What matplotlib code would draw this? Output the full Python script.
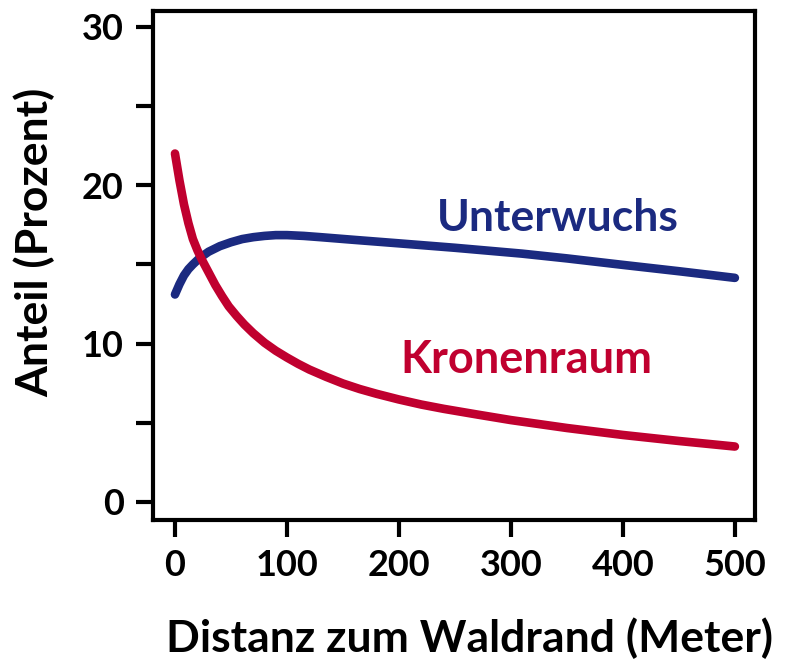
import matplotlib
matplotlib.use("Agg")
import matplotlib.pyplot as plt

plt.rcParams["font.family"] = ["Lato", "DejaVu Sans"]
plt.rcParams["font.weight"] = "bold"

# distance from forest edge (m) and share (%)
krone_x = [0, 4, 8, 12, 16, 20, 24, 30, 36, 42, 48, 55, 62, 70, 80, 90, 100, 110, 120, 135, 150,
           165, 180, 200, 220, 240, 270, 300, 350, 400, 450, 500]
krone_y = [22.0, 20.3, 18.8, 17.6, 16.6, 15.9, 15.3, 14.5, 13.7, 13.0, 12.35, 11.75, 11.2, 10.65, 10.05,
           9.55, 9.12, 8.72, 8.36, 7.9, 7.48, 7.13, 6.83, 6.47, 6.15, 5.88, 5.52, 5.17, 4.67, 4.23, 3.85, 3.5]

unter_x = [0, 4, 8, 12, 16, 22, 30, 40, 50, 60, 70, 80, 90, 100, 115, 130, 160, 200, 250, 310,
           350, 400, 450, 500]
unter_y = [13.1, 13.75, 14.3, 14.7, 15.0, 15.4, 15.8, 16.15, 16.4, 16.6, 16.72, 16.8, 16.85, 16.85,
           16.8, 16.72, 16.55, 16.33, 16.05, 15.68, 15.38, 14.97, 14.57, 14.15]

y_ticks = [0, 5, 10, 15, 20, 25, 30]
y_labels = ["0", "", "10", "", "20", "", "30"]
x_ticks = [0, 100, 200, 300, 400, 500]

blue = "#1b2a80"
red = "#c0002f"

fig = plt.figure(figsize=(7.86, 6.6), dpi=100)
ax = fig.add_axes([0.1947, 0.2121, 0.7659, 0.7712])

ax.plot(unter_x, unter_y, color=blue, lw=6.2, solid_capstyle="round", solid_joinstyle="round")
ax.plot(krone_x, krone_y, color=red, lw=6.2, solid_capstyle="round", solid_joinstyle="round")

ax.text(234, 17.1, "Unterwuchs", color=blue, fontsize=32, fontweight="bold", ha="left", va="baseline")
ax.text(201, 8.15, "Kronenraum", color=red, fontsize=32.5, fontweight="bold", ha="left", va="baseline")

ax.set_xlim(-19.6, 518)
ax.set_ylim(-1.14, 31.0)
ax.set_xticks(x_ticks)
ax.set_yticks(y_ticks)
ax.set_yticklabels(y_labels)

for s in ax.spines.values():
    s.set_linewidth(3)
ax.tick_params(length=12, width=3, labelsize=26, pad=9)

fig.text(470 / 786, 1 - 638 / 660, "Distanz zum Waldrand (Meter)", fontsize=32, fontweight="bold",
         ha="center", va="center")
fig.text(34 / 786, 1 - 242 / 660, "Anteil (Prozent)", fontsize=32, fontweight="bold",
         ha="center", va="center", rotation=90)

fig.savefig("out.png", dpi=100)
